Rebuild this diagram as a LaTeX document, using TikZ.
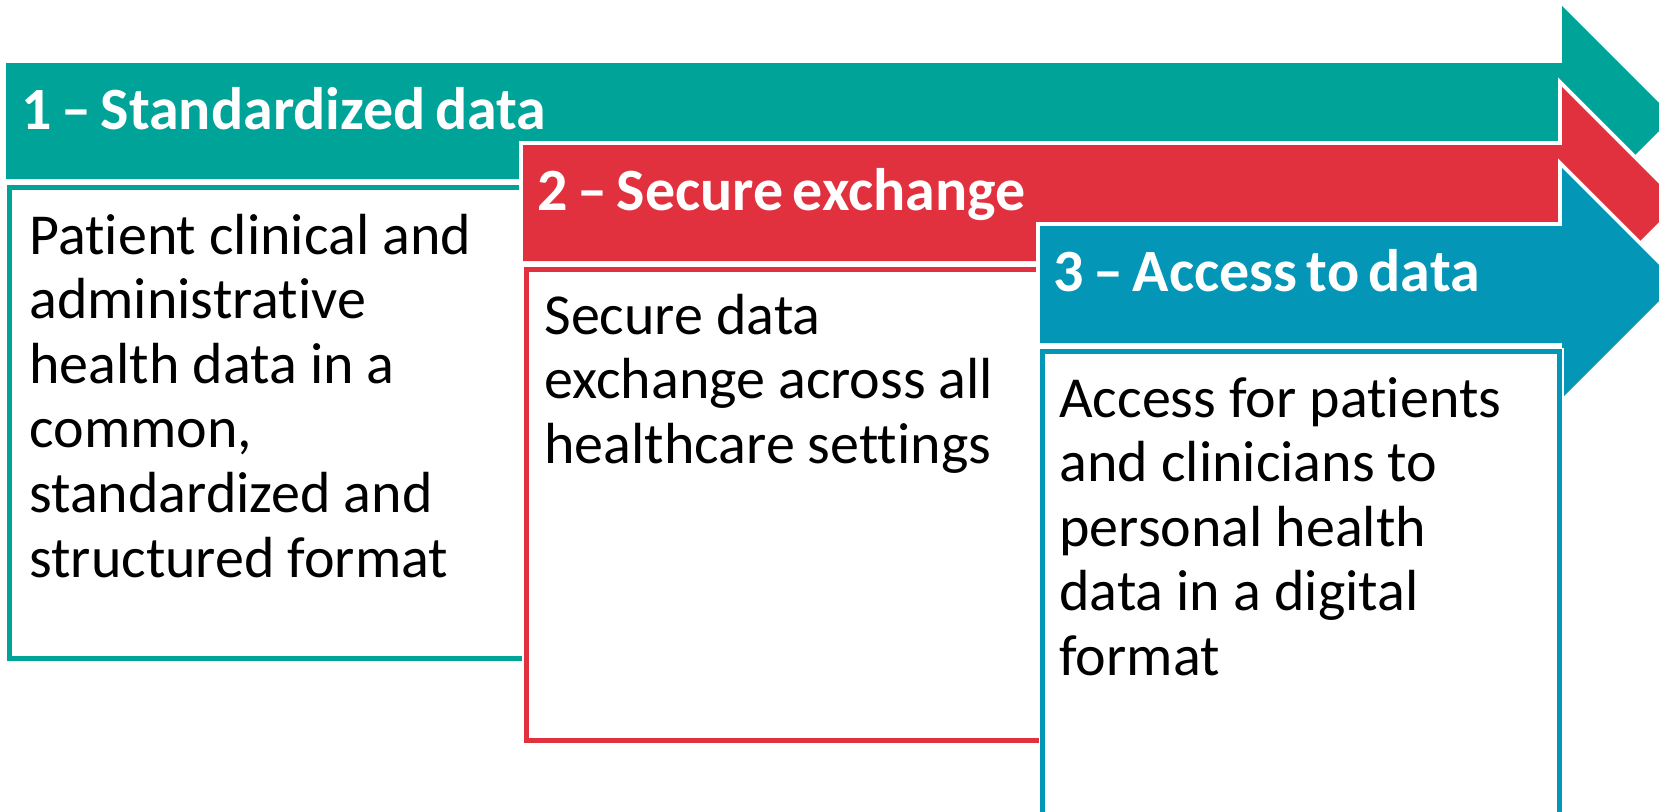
\documentclass[tikz,border=0pt]{standalone}
\usepackage{fontspec}
\setmainfont[RawFeature=-liga]{Carlito}
\newfontfamily\titlefont[WordSpace=0.7,RawFeature=-liga]{Carlito}
\definecolor{cteal}{HTML}{00A398}
\definecolor{cred}{HTML}{E1303E}
\definecolor{cblue}{HTML}{0396B7}
\begin{document}
\begin{tikzpicture}[x=0.5pt,y=-0.5pt,
  halo/.style={draw=white,fill=white,line width=4pt,line join=miter},
  boxline/.style={line width=2.5pt},
  boxhalo/.style={draw=white, line width=4pt},
  title/.style={anchor=base west, inner sep=0pt, text=white, font=\titlefont\fontsize{30pt}{32pt}\selectfont\bfseries},
  body/.style={anchor=base west, inner sep=0pt, align=left, text width=250pt, font=\fontsize{29pt}{32.3pt}\selectfont,
    execute at begin node={\spaceskip=0pt\xspaceskip=0pt\relax}}]
\useasboundingbox (0,0) rectangle (1659,811);
\clip (0,0) rectangle (1659,811);
% arrow 1
\path[halo] (6,63) -- (1562,63) -- (1562,6) -- (1673,117) -- (1562,228) -- (1562,179) -- (6,179) -- cycle;
\fill[cteal] (6,63) -- (1562,63) -- (1562,6) -- (1673,117) -- (1562,228) -- (1562,179) -- (6,179) -- cycle;
\draw[boxhalo] (700,187.5) -- (9.5,187.5) -- (9.5,658.5) -- (700,658.5);
\draw[boxline, draw=cteal] (700,187.5) -- (9.5,187.5) -- (9.5,658.5) -- (700,658.5);
% arrow 2
\path[halo] (523,145) -- (1562,145) -- (1562,87) -- (1678,203) -- (1562,319) -- (1562,261) -- (523,261) -- cycle;
\fill[cred] (523,145) -- (1562,145) -- (1562,87) -- (1678,203) -- (1562,319) -- (1562,261) -- (523,261) -- cycle;
\fill[white] (526,269) rectangle (1200,740);
\draw[boxhalo] (1200,269) -- (526,269) -- (526,740) -- (1200,740);
\draw[boxline, draw=cred] (1200,269) -- (526,269) -- (526,740) -- (1200,740);
% arrow 3
\path[halo] (1040,226) -- (1562,226) -- (1562,168) -- (1677,283) -- (1562,398) -- (1562,343) -- (1040,343) -- cycle;
\fill[cblue] (1040,226) -- (1562,226) -- (1562,168) -- (1677,283) -- (1562,398) -- (1562,343) -- (1040,343) -- cycle;
\draw[boxhalo, fill=white] (1042.5,351.5) rectangle (1559.5,830);
\draw[boxline, draw=cblue] (1042.5,351.5) rectangle (1559.5,830);
% texts
\node[title] (t1) at (21,129) {1 – Standardized data};
\node[title] (t2) at (537,210) {2 – Secure exchange};
\node[title] (t3) at (1053,291) {3 – Access to data};
\node[body] (b1) at (29,254) {Patient clinical and\\administrative\\health data in a\\common,\\standardized and\\structured format};
\node[body] (b2) at (544,334) {Secure data\\exchange across all\\healthcare settings};
\node[body] (b3) at (1059,417) {Access for patients\\and clinicians to\\personal health\\data in a digital\\format};
\end{tikzpicture}
\end{document}
